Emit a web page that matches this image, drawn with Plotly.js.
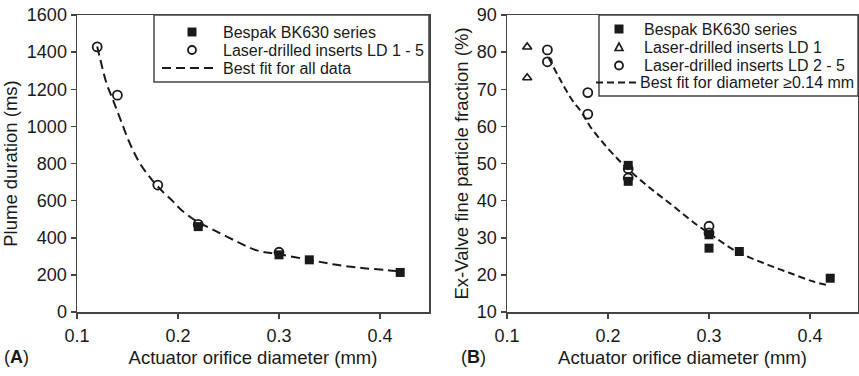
<!DOCTYPE html>
<html><head><meta charset="utf-8">
<script src="https://cdn.plot.ly/plotly-3.0.1.min.js"></script>
<style>body{margin:0;background:#fff}#chart{width:859px;height:376px}</style>
</head><body><div id="chart"></div>
<script>
// Panel A: plume duration (ms)
const diamA_bespak = [0.22, 0.30, 0.33, 0.42];
const plumeA_bespak = [460, 308, 281, 213];
const diamA_ld = [0.12, 0.14, 0.18, 0.22, 0.30];
const plumeA_ld = [1428, 1168, 684, 472, 322];
const fitA_x = [0.12, 0.123, 0.129, 0.136, 0.143, 0.152, 0.162, 0.174, 0.186, 0.195, 0.202, 0.218, 0.235, 0.258, 0.278, 0.30, 0.33, 0.357, 0.384, 0.407, 0.42];
const fitA_y = [1430, 1362, 1236, 1137, 1038, 912, 804, 713, 642, 596, 556, 490, 443, 380, 332, 311, 281, 254, 236, 226, 218];

// Panel B: ex-valve fine particle fraction (%)
const diamB_bespak = [0.22, 0.22, 0.30, 0.30, 0.33, 0.42];
const fpfB_bespak = [49.5, 45.2, 30.8, 27.2, 26.3, 19.1];
const diamB_ld1 = [0.12, 0.12];
const fpfB_ld1 = [81.4, 73.1];
const diamB_ld25 = [0.14, 0.14, 0.18, 0.18, 0.22, 0.22, 0.30, 0.30];
const fpfB_ld25 = [80.6, 77.4, 69.1, 63.3, 48.6, 46.1, 33.1, 31.3];
const fitB_x = [0.141, 0.1525, 0.164, 0.174, 0.182, 0.195, 0.2086, 0.2185, 0.2416, 0.2647, 0.2878, 0.3043, 0.3274, 0.3538, 0.380, 0.4033, 0.4165];
const fitB_y = [78.6, 72.7, 67.3, 63.7, 60.1, 55.6, 51.5, 48.8, 43.4, 38.5, 33.5, 30.4, 26.3, 23.2, 20.5, 18.2, 17.3];

// Labels
const xTickVals = [0.1, 0.2, 0.3, 0.4];
const xTickText = ['0.1', '0.2', '0.3', '0.4'];
const xTitle = 'Actuator orifice diameter (mm)';
const yTitleA = 'Plume duration (ms)';
const yTitleB = 'Ex-Valve fine particle fraction (%)';
const legA = ['Bespak BK630 series', 'Laser-drilled inserts LD 1 - 5', 'Best fit for all data'];
const legB = ['Bespak BK630 series', 'Laser-drilled inserts LD 1', 'Laser-drilled inserts LD 2 - 5', 'Best fit for diameter \u22650.14 mm'];
const panelTags = ['(<b>A</b>)', '(<b>B</b>)'];

const ink = '#1a1a1a';
const edge = '#444';
const FONT = 'Liberation Sans, Arial, sans-serif';
const dashA = '9px,5px', dashB = '7px,4px';
const squareM = {symbol: 'square', size: 9, color: ink};
const circleM = {symbol: 'circle-open', size: 9, color: ink, line: {width: 1.8, color: ink}};
const triM = {symbol: 'triangle-up-open', size: 8, color: ink, line: {width: 1.6, color: ink}};

const traces = [
  {x: diamA_bespak, y: plumeA_bespak, mode: 'markers', marker: squareM, name: legA[0], xaxis: 'x', yaxis: 'y'},
  {x: diamA_ld, y: plumeA_ld, mode: 'markers', marker: circleM, name: legA[1], xaxis: 'x', yaxis: 'y'},
  {x: fitA_x, y: fitA_y, mode: 'lines', line: {color: ink, width: 2, dash: dashA, shape: 'spline', smoothing: 1}, name: legA[2], xaxis: 'x', yaxis: 'y'},
  {x: diamB_bespak, y: fpfB_bespak, mode: 'markers', marker: squareM, name: legB[0], xaxis: 'x2', yaxis: 'y2'},
  {x: diamB_ld1, y: fpfB_ld1, mode: 'markers', marker: triM, name: legB[1], xaxis: 'x2', yaxis: 'y2'},
  {x: diamB_ld25, y: fpfB_ld25, mode: 'markers', marker: circleM, name: legB[2], xaxis: 'x2', yaxis: 'y2'},
  {x: fitB_x, y: fitB_y, mode: 'lines', line: {color: ink, width: 2, dash: dashB, shape: 'spline', smoothing: 1}, name: legB[3], xaxis: 'x2', yaxis: 'y2'}
];

const W = 859, H = 376;
const px = v => v / W, py = v => (H - v) / H;
const axisBase = {
  showline: true, linecolor: edge, linewidth: 1.5, mirror: true,
  ticks: 'outside', ticklen: 5, tickwidth: 1.5, tickcolor: edge,
  showgrid: false, zeroline: false, automargin: false,
  tickfont: {family: FONT, size: 18, color: ink}
};
const yDom = [py(312), py(15)];

// Hand-built legend boxes (fixed 18px row pitch like the original)
const shapes = [];
const annotations = [];
function legendBox(x0, x1, y0, y1) {
  shapes.push({type: 'rect', xref: 'paper', yref: 'paper', x0: px(x0), x1: px(x1), y0: py(y1), y1: py(y0), fillcolor: '#fff', line: {color: edge, width: 1.5}, layer: 'above'});
}
function legendText(txt, x, y) {
  annotations.push({text: txt, x: px(x), y: py(y), xref: 'paper', yref: 'paper', xanchor: 'left', yanchor: 'middle', showarrow: false, borderpad: 0, font: {family: FONT, size: 16, color: ink}});
}
function symSquare(cx, cy) {
  shapes.push({type: 'rect', xref: 'paper', yref: 'paper', x0: px(cx - 4.5), x1: px(cx + 4.5), y0: py(cy + 4.5), y1: py(cy - 4.5), fillcolor: ink, line: {width: 0}, layer: 'above'});
}
function symCircle(cx, cy) {
  shapes.push({type: 'circle', xref: 'paper', yref: 'paper', x0: px(cx - 4), x1: px(cx + 4), y0: py(cy + 4), y1: py(cy - 4), line: {color: ink, width: 1.8}, layer: 'above'});
}
function symTri(cx, cy) {
  shapes.push({type: 'path', xref: 'paper', yref: 'paper', path: `M${px(cx - 4)},${py(cy + 3.5)} L${px(cx + 4)},${py(cy + 3.5)} L${px(cx)},${py(cy - 4)} Z`, line: {color: ink, width: 1.6}, layer: 'above'});
}
function symLine(xa, xb, cy, dash) {
  shapes.push({type: 'line', xref: 'paper', yref: 'paper', x0: px(xa), x1: px(xb), y0: py(cy), y1: py(cy), line: {color: ink, width: 2, dash: dash}, layer: 'above'});
}

// Legend A
legendBox(154, 429, 15, 82);
symSquare(192, 32); legendText(legA[0], 222, 32);
symCircle(192, 50); legendText(legA[1], 222, 50);
symLine(162, 216, 68, dashA); legendText(legA[2], 222, 68);
// Legend B
legendBox(599, 858, 15, 96);
symSquare(619, 29); legendText(legB[0], 643, 29);
symTri(619, 47); legendText(legB[1], 643, 47);
symCircle(619, 65.5); legendText(legB[2], 643, 65.5);
symLine(596, 637, 82.5, dashB); legendText(legB[3], 639, 82.5);

// panel tags
annotations.push({text: panelTags[0], x: px(16), y: py(357), xref: 'paper', yref: 'paper', xanchor: 'center', yanchor: 'middle', showarrow: false, font: {family: FONT, size: 18, color: ink}});
annotations.push({text: panelTags[1], x: px(474), y: py(357), xref: 'paper', yref: 'paper', xanchor: 'center', yanchor: 'middle', showarrow: false, font: {family: FONT, size: 18, color: ink}});

const layout = {
  width: W, height: H,
  margin: {l: 0, r: 0, t: 0, b: 0},
  paper_bgcolor: '#fff', plot_bgcolor: '#fff',
  font: {family: FONT, color: ink, size: 18},
  showlegend: false,
  xaxis: Object.assign({}, axisBase, {domain: [px(77), px(429)], range: [0.1, 0.4485], tickvals: xTickVals, ticktext: xTickText, ticklabelstandoff: 2, title: {text: xTitle, font: {size: 18.5}, standoff: 6}, anchor: 'y'}),
  yaxis: Object.assign({}, axisBase, {domain: yDom, range: [0, 1600], dtick: 200, tick0: 0, title: {text: yTitleA, font: {size: 18.5}, standoff: 8}, anchor: 'x'}),
  xaxis2: Object.assign({}, axisBase, {domain: [px(507), px(858)], range: [0.1, 0.4475], tickvals: xTickVals, ticktext: xTickText, ticklabelstandoff: 2, title: {text: xTitle, font: {size: 18.5}, standoff: 6}, anchor: 'y2'}),
  yaxis2: Object.assign({}, axisBase, {domain: yDom, range: [10, 90], dtick: 10, tick0: 10, title: {text: yTitleB, font: {size: 18.5}, standoff: 3}, anchor: 'x2'}),
  shapes: shapes,
  annotations: annotations
};

Plotly.newPlot('chart', traces, layout, {displayModeBar: false, staticPlot: true});
</script>
</body></html>
